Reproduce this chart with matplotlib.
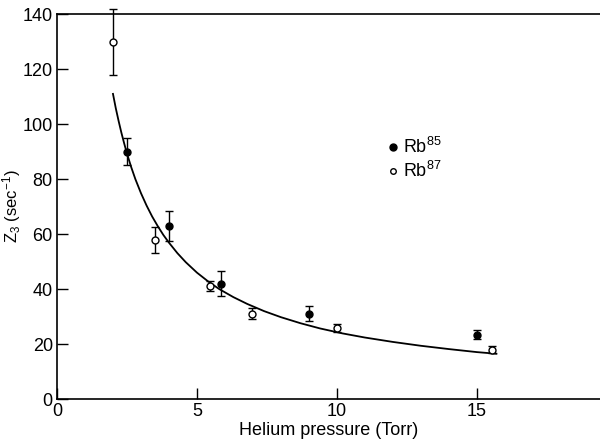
import numpy as np
import matplotlib
matplotlib.use("Agg")
import matplotlib.pyplot as plt

plt.rcParams['font.family'] = ['Liberation Sans', 'DejaVu Sans']
plt.rcParams['mathtext.default'] = 'regular'

# --- datos ---
# Rb85 (circulos llenos)
p85 = [2.5, 4.0, 5.85, 9.0, 15.0]
z85 = [90.0, 63.0, 42.0, 31.0, 23.5]
e85 = [5.0, 5.5, 4.5, 2.7, 1.6]

# Rb87 (circulos abiertos)
p87 = [2.0, 3.5, 5.45, 6.95, 10.0, 15.55]
z87 = [130.0, 58.0, 41.0, 31.0, 26.0, 18.0]
e87 = [12.0, 4.7, 1.8, 2.0, 1.5, 1.2]

# curva ajustada (puntos leidos sobre la linea)
p_fit = [2.0, 2.1, 2.2, 2.3, 2.4, 2.5, 2.65, 2.8, 3.0, 3.2, 3.4, 3.6, 3.8,
         4.0, 4.3, 4.6, 5.0, 5.4, 5.8, 6.3, 6.8, 7.4, 8.0, 8.7, 9.4,
         10.2, 11.0, 12.0, 13.0, 14.0, 15.0, 15.7]
z_fit = [111.0, 105.8, 101.2, 96.9, 93.0, 89.3, 84.4, 80.0, 74.9, 70.4,
         66.4, 62.9, 59.7, 56.9, 53.1, 49.8, 46.0, 42.8, 40.0, 37.1, 34.6,
         32.0, 29.8, 27.6, 25.7, 23.9, 22.4, 20.8, 19.4, 18.2, 17.1, 16.5]

fig = plt.figure(figsize=(6, 4.42), dpi=100)
ax = fig.add_axes([0.095, 0.097, 0.905, 0.871])

ax.plot(p_fit, z_fit, color='black', lw=1.3)

ax.errorbar(p85, z85, yerr=e85, fmt='o', color='black', mfc='black',
            ms=5, elinewidth=1, capsize=3, capthick=1, clip_on=False)
ax.errorbar(p87, z87, yerr=e87, fmt='o', color='black', mfc='white',
            ms=5, elinewidth=1, capsize=3, capthick=1, clip_on=False)

# leyenda dibujada a mano como en el original
ax.plot([12.0], [91.6], 'o', color='black', ms=5)
ax.plot([12.0], [83.0], 'o', color='black', mfc='white', ms=4)
ax.text(12.35, 91.6, r'Rb$^{85}$', fontsize=13, va='center')
ax.text(12.35, 83.0, r'Rb$^{87}$', fontsize=13, va='center')

ax.set_xlim(0, 19.4)
ax.set_ylim(0, 140)
ax.set_xticks([0, 5, 10, 15])
ax.set_yticks(np.arange(0, 141, 20))
ax.tick_params(direction='in', length=8, width=1, labelsize=13)
ax.tick_params(axis='x', pad=3)
ax.tick_params(axis='y', pad=3)
ax.spines['right'].set_visible(False)
for s in ['left', 'bottom', 'top']:
    ax.spines[s].set_linewidth(1.2)

ax.set_xlabel('Helium pressure (Torr)', fontsize=13, labelpad=1)
ax.set_ylabel(r'$Z_3$ (sec$^{-1}$)', fontsize=12)
ax.yaxis.set_label_coords(-0.062, 0.5)

fig.savefig('out.png', dpi=100)
